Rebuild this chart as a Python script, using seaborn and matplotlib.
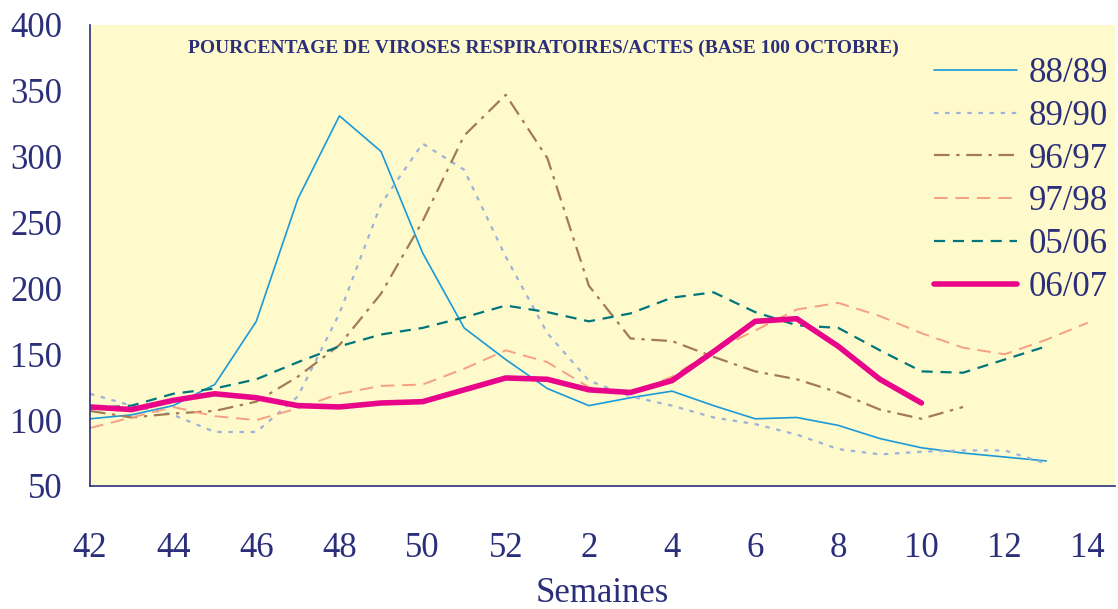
import numpy as np
import pandas as pd
import matplotlib.pyplot as plt
import seaborn as sns

# semaines 42 -> 14
semaines = [42, 43, 44, 45, 46, 47, 48, 49, 50, 51, 52, 1, 2, 3, 4, 5, 6, 7, 8, 9, 10, 11, 12, 13, 14]

s8889 = [101, 104, 111, 127, 175, 268, 331, 304, 227, 170, 146, 124, 111, 117, 122, 111, 101, 102, 96, 86, 79, 75, 72, 69]
s8990 = [120, 111, 104, 91, 91, 118, 181, 264, 310, 290, 224, 166, 130, 118, 111, 102, 97, 89, 78, 74, 76, 77, 77, 67]
s9697 = [107, 102, 105, 107, 114, 133, 157, 196, 251, 316, 347, 299, 202, 162, 160, 148, 137, 131, 121, 108, 101, 110]
s9798 = [94, 102, 110, 103, 100, 109, 120, 126, 127, 139, 153, 144, 125, 120, 133, 153, 168, 184, 189, 179, 166, 155, 150, 161, 174]
s0506 = [109, 111, 120, 124, 131, 144, 156, 165, 170, 178, 187, 182, 175, 181, 193, 197, 182, 172, 170, 153, 137, 136, 146, 156]
s0607 = [110, 108, 115, 120, 117, 111, 110, 113, 114, 123, 132, 131, 123, 121, 130, 152, 175, 177, 156, 131, 113]

saisons = ["88/89", "89/90", "96/97", "97/98", "05/06", "06/07"]
series = [s8889, s8990, s9697, s9798, s0506, s0607]

navy = "#2B2F7A"
styles = {
    "88/89": dict(color="#1A9AD8", lw=1.2, ls="-"),
    "89/90": dict(color="#9DB2D8", lw=1.6, ls=(0, (2, 3))),
    "96/97": dict(color="#A27B55", lw=1.6, ls=(0, (7, 3, 1.5, 3))),
    "97/98": dict(color="#F5A080", lw=1.4, ls=(0, (7, 4))),
    "05/06": dict(color="#00767C", lw=1.6, ls=(0, (5, 3.5))),
    "06/07": dict(color="#E8058A", lw=4.0, ls="-"),
}

sns.set_theme(style="white")
plt.rcParams['font.family'] = ['Liberation Serif', 'DejaVu Serif']

fig = plt.figure(figsize=(11.18, 6.09), dpi=100)
ax = fig.add_axes([0.0805, 0.202, 0.917, 0.757])
ax.set_facecolor("#FFFACC")

for nom, vals in zip(saisons, series):
    df = pd.DataFrame({"x": np.arange(len(vals)), "y": vals})
    st = styles[nom]
    sns.lineplot(data=df, x="x", y="y", ax=ax, color=st["color"], lw=st["lw"],
                 linestyle=st["ls"], label=nom)

ax.set_xlim(0, 24.66)
ax.set_ylim(50, 400)
ax.set_xticks(np.arange(len(semaines)))
ax.set_xticklabels([str(s) if i % 2 == 0 else "" for i, s in enumerate(semaines)])
ax.set_yticks(np.arange(50, 401, 50))
ax.tick_params(axis="both", colors=navy, labelsize=25, direction="out", length=8, width=1)
ax.tick_params(axis="x", pad=24, length=9)
ax.tick_params(axis="y", pad=12)

for side in ["top", "right"]:
    ax.spines[side].set_visible(False)
for side in ["left", "bottom"]:
    ax.spines[side].set_color(navy)
    ax.spines[side].set_linewidth(1.2)

ax.set_xlabel("Semaines", fontsize=25, color=navy, labelpad=9)
ax.set_ylabel("")

ax.text(0.442, 0.95, "POURCENTAGE DE VIROSES RESPIRATOIRES/ACTES (BASE 100 OCTOBRE)",
        transform=ax.transAxes, ha="center", va="center", fontsize=14,
        fontweight="bold", color=navy)

leg = ax.legend(loc="upper right", bbox_to_anchor=(1.024, 0.998), frameon=False,
                fontsize=25, handlelength=2.4, labelspacing=0.28, handletextpad=0.35)
for t in leg.get_texts():
    t.set_color(navy)

fig.savefig("out.png", dpi=100)
